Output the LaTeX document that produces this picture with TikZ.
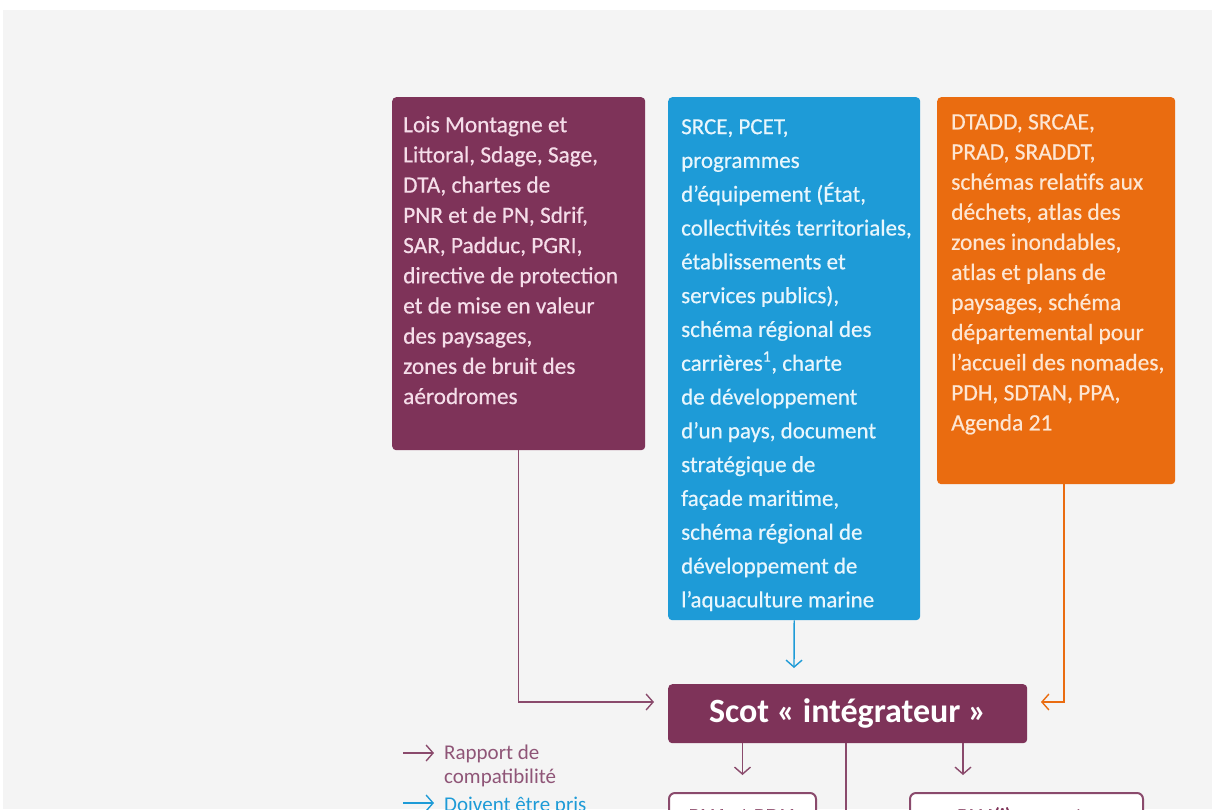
\documentclass[tikz,border=0pt]{standalone}
\usepackage{fontspec}
\setmainfont{Carlito}
\newfontfamily\heavy{Carlito}[FakeBold=0.5]
\usetikzlibrary{arrows.meta}
\definecolor{plum}{HTML}{7E3359}
\definecolor{sky}{HTML}{1E9BD7}
\definecolor{ora}{HTML}{EA6C10}
\definecolor{bg}{HTML}{F4F4F4}
\definecolor{plumtext}{HTML}{F5DDE9}
\definecolor{skytext}{HTML}{E8F6FD}
\definecolor{oratext}{HTML}{FDE6D3}
\definecolor{legplum}{HTML}{8F5577}
\definecolor{plumline}{HTML}{8A4A6C}
\begin{document}
\begin{tikzpicture}[x=1pt,y=-1pt,
  box/.style={anchor=north west, inner sep=0pt, rounded corners=4pt},
  txt/.style={anchor=north west, inner sep=0pt, align=left},
  arr/.style={line width=1.4pt, -{Straight Barb[length=7pt,width=16pt,line width=1.4pt]}},
  ln/.style={line width=1.4pt},
  subbox/.style={anchor=north west, inner sep=0pt, draw=plumline, line width=2pt, fill=white, rounded corners=6pt, minimum width=147pt, minimum height=60pt}
]
\useasboundingbox (0,0) rectangle (1212,809);
\fill[white] (0,0) rectangle (1212,809);
\fill[bg] (3,10) rectangle (1212,809);

% top boxes
\node[box, fill=plum, minimum width=253pt, minimum height=353pt] (lois) at (392,97) {};
\node[txt, text=plumtext, font=\heavy\fontsize{23.3}{30.2}\selectfont] (loistxt) at (403,116) {Lois Montagne et\\Littoral, Sdage, Sage,\\DTA, chartes de\\PNR et de PN, Sdrif,\\SAR, Padduc, PGRI,\\directive de protection\\et de mise en valeur\\des paysages,\\zones de bruit des\\aérodromes};

\node[box, fill=sky, minimum width=252pt, minimum height=523pt] (srce) at (668,97) {};
\node[txt, text=skytext, font=\heavy\fontsize{23}{33.8}\selectfont] (srcetxt) at (681,119) {SRCE, PCET,\\programmes\\d’équipement (État,\\collectivités territoriales,\\établissements et\\services publics),\\schéma régional des\\carrières\textsuperscript{1}, charte\\de développement\\d’un pays, document\\stratégique de\\façade maritime,\\schéma régional de\\développement de\\l’aquaculture marine};

\node[box, fill=ora, minimum width=238pt, minimum height=387pt] (dtadd) at (937,97) {};
\node[txt, text=oratext, font=\heavy\fontsize{23.5}{30.1}\selectfont] (dtaddtxt) at (951,114) {DTADD, SRCAE,\\PRAD, SRADDT,\\schémas relatifs aux\\déchets, atlas des\\zones inondables,\\atlas et plans de\\paysages, schéma\\départemental pour\\l’accueil des nomades,\\PDH, SDTAN, PPA,\\Agenda 21};

% Scot
\node[box, fill=plum, minimum width=359pt, minimum height=59pt, text=white, font=\bfseries\fontsize{34}{38}\selectfont] (scot) at (668,684) {Scot « intégrateur »};

% bottom boxes
\node[subbox] (plh) at (668,792) {};
\node[subbox, minimum width=233pt] (plu) at (909,792) {};
\node[anchor=base, inner sep=0pt, text=plum, font=\heavy\fontsize{23}{27}\selectfont] (plhtxt) at (741.5,824) {PLH et PDU};
\node[anchor=base, inner sep=0pt, text=plum, font=\heavy\fontsize{23}{27}\selectfont] (plutxt) at (1025.5,824) {PLU(i) ou carte};

% connectors
\coordinate (pin) at (654,702);
\draw[arr, draw=plumline] (lois.south) |- (pin);
\coordinate (bin) at (794,668);
\draw[arr, draw=sky] (srce.south) -- (bin);
\coordinate (oout) at (1064,484);
\coordinate (oin) at (1041,702);
\draw[arr, draw=ora] (oout) |- (oin);

\coordinate (sr) at (963,743);
\coordinate (srend) at (963,775);
\coordinate (midend) at (846,815);
\draw[arr, draw=plumline] (scot.south -| plh.north) -- ([yshift=17pt]plh.north);
\draw[arr, draw=plumline] (sr) -- (srend);
\draw[ln, draw=plumline] (scot.south -| midend) -- (midend);

% legend
\coordinate (l1a) at (403,753);
\coordinate (l1b) at (434,753);
\draw[arr, draw=plumline] (l1a) -- (l1b);
\node[txt, text=legplum, font=\fontsize{21}{24}\selectfont] (leg1) at (444,745) {Rapport de\\compatibilité};
\coordinate (l2a) at (403,803);
\coordinate (l2b) at (434,803);
\draw[arr, draw=sky] (l2a) -- (l2b);
\node[txt, text=sky, font=\fontsize{21}{24}\selectfont] (leg2) at (444,797) {Doivent être pris};
\end{tikzpicture}
\end{document}
